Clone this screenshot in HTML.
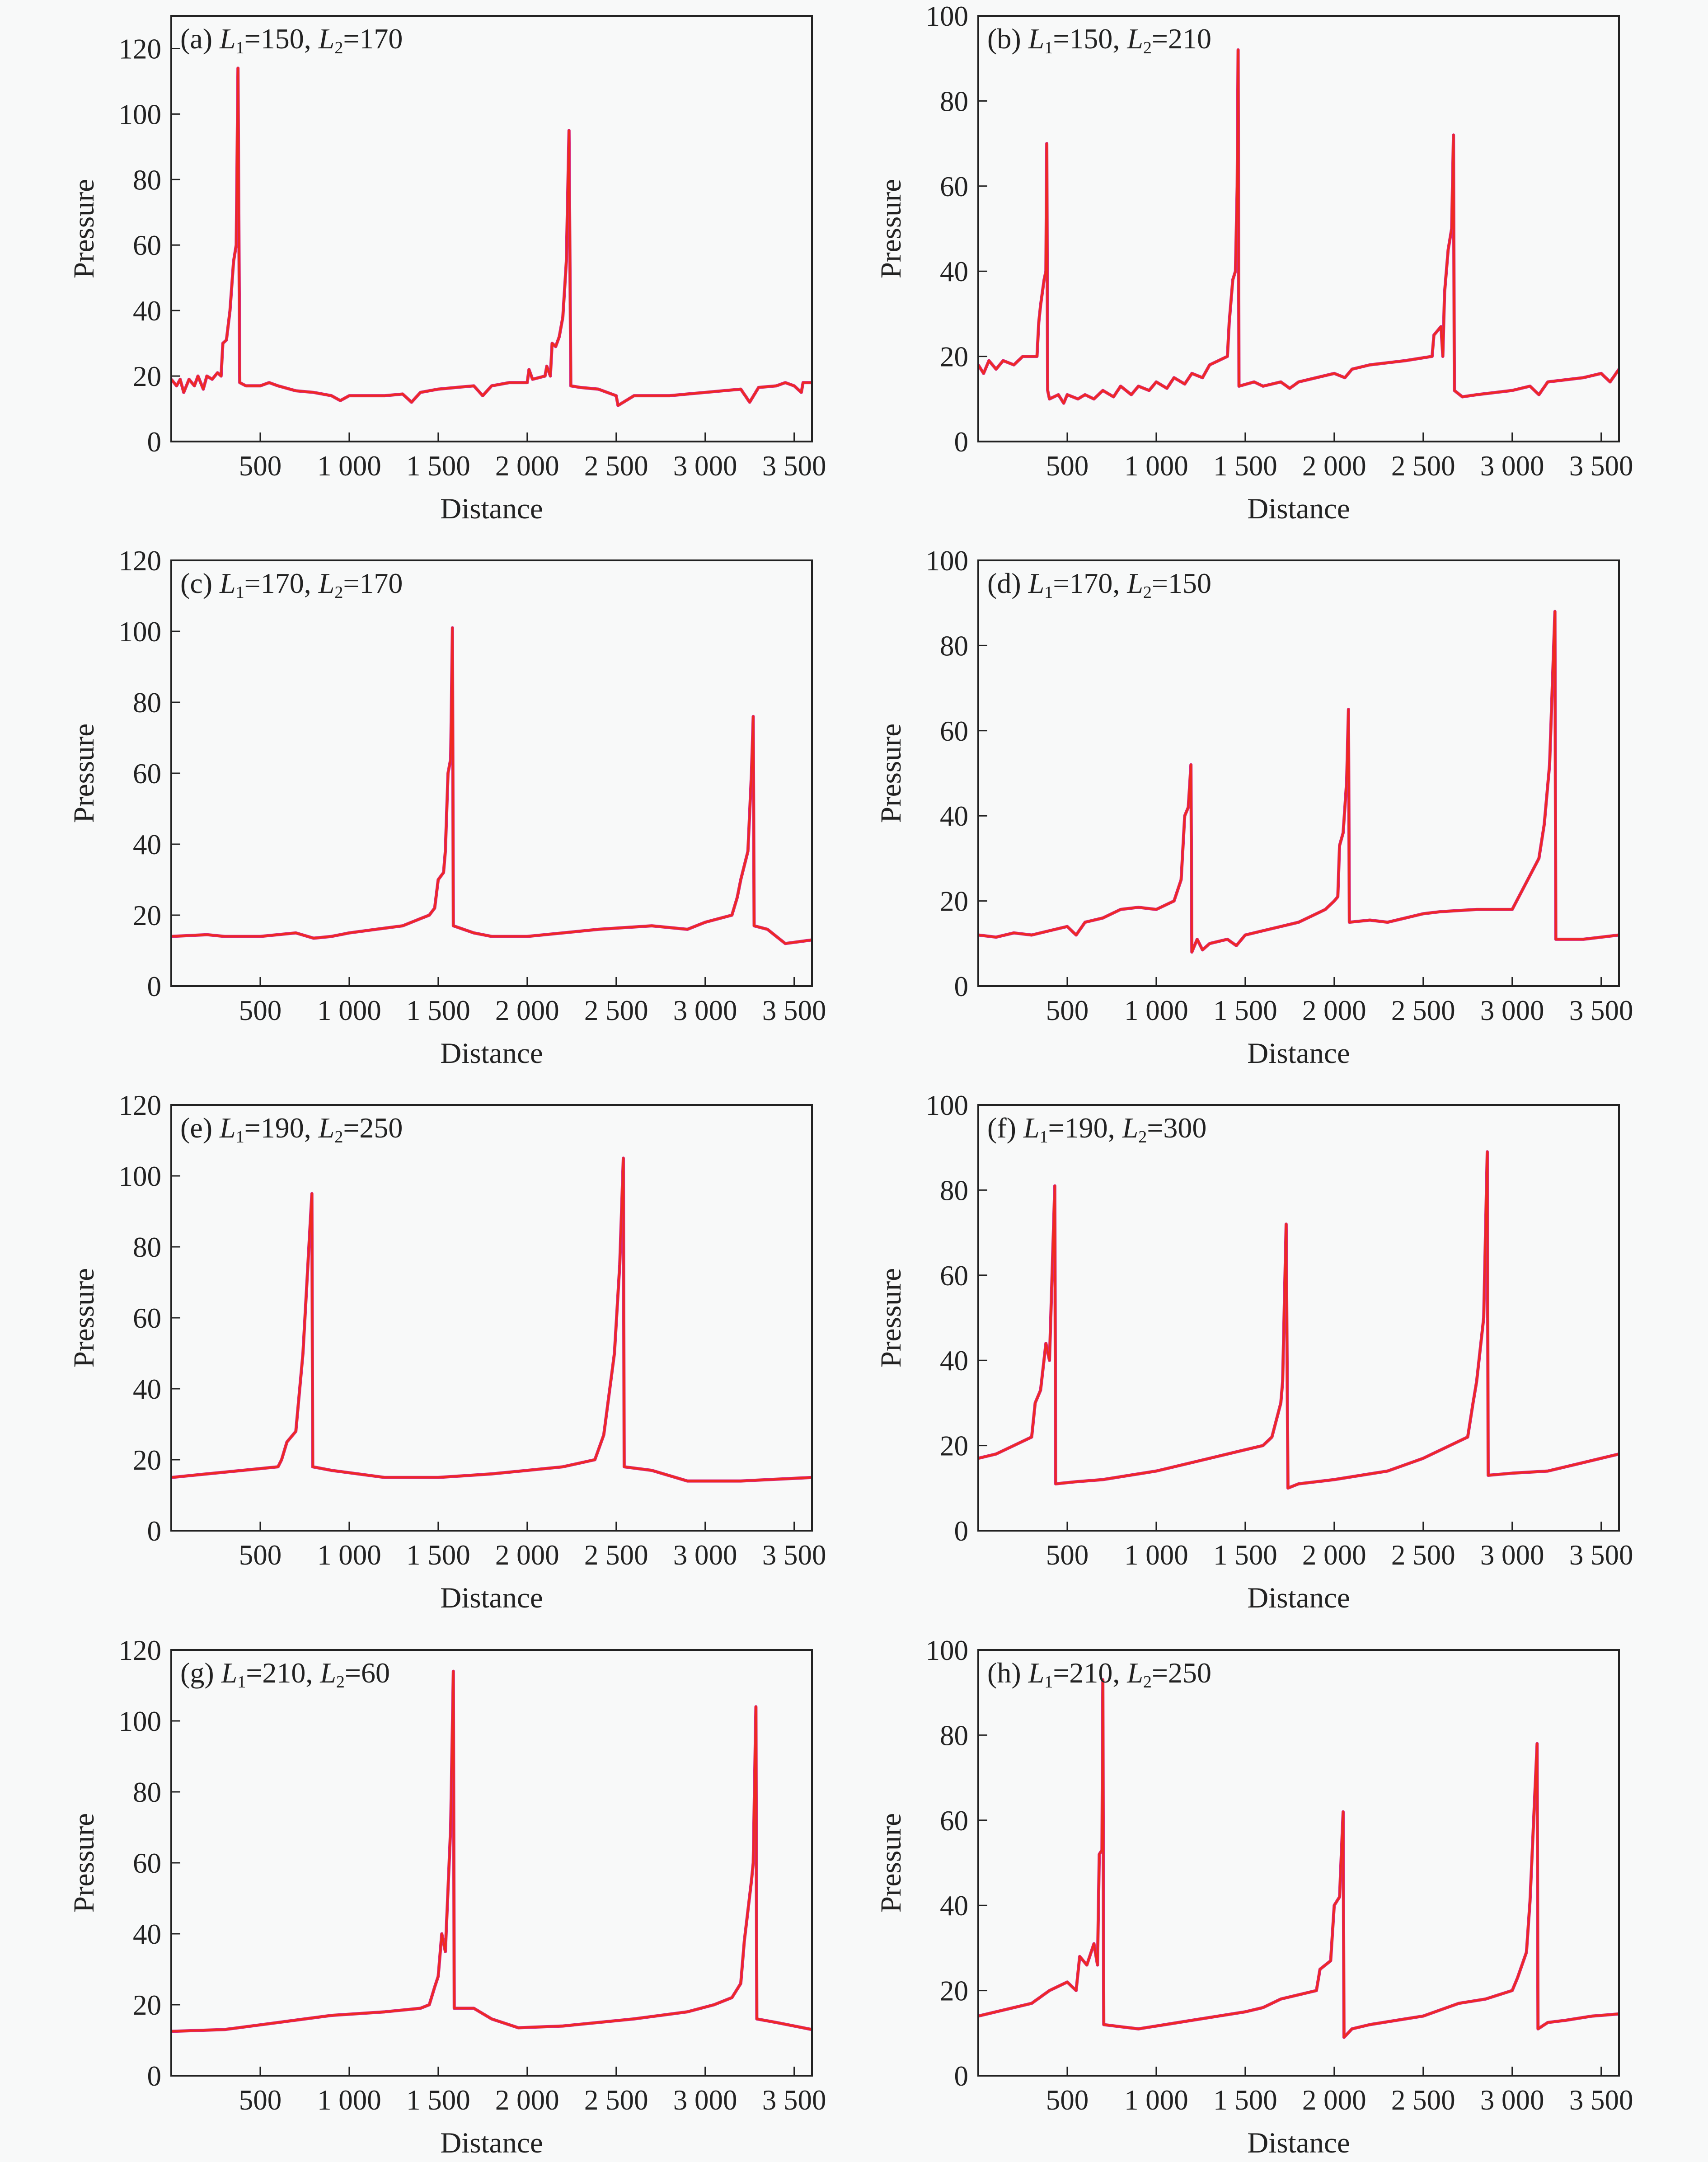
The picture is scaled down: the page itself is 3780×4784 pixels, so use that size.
<!DOCTYPE html>
<html><head><meta charset="utf-8">
<style>
html,body{margin:0;padding:0;background:#f8f9f9;}
svg{display:block;}
text{font-family:"Liberation Serif",serif;fill:#222;}
</style></head>
<body>
<svg id="fig" width="3780" height="4784" viewBox="0 0 3780 4784" xmlns="http://www.w3.org/2000/svg"></svg>
<script>
const xTicks=[500,1000,1500,2000,2500,3000,3500];
const xTickLabels=["500","1 000","1 500","2 000","2 500","3 000","3 500"];
const panelLabels=["(a)","(b)","(c)","(d)","(e)","(f)","(g)","(h)"];
const L1=[150,150,170,170,190,190,210,210];
const L2=[170,210,170,150,250,300,60,250];
const yMaxs=[130,100,120,100,120,100,120,100];
const dA=[[0,19],[30,17],[50,19],[70,15],[100,19],[130,17],[150,20],[180,16],[200,20],[230,19],[260,21],[280,20],[290,30],[310,31],[330,40],[350,55],[365,60],[375,114],[385,18],[420,17],[500,17],[550,18],[600,17],[700,15.5],[800,15],[900,14],[950,12.5],[1000,14],[1100,14],[1200,14],[1300,14.5],[1350,12],[1400,15],[1500,16],[1600,16.5],[1700,17],[1750,14],[1800,17],[1900,18],[2000,18],[2010,22],[2030,19],[2100,20],[2110,23],[2130,20],[2140,30],[2160,29],[2180,32],[2200,38],[2220,55],[2235,95],[2245,17],[2300,16.5],[2400,16],[2500,14],[2510,11],[2600,14],[2700,14],[2800,14],[2900,14.5],[3000,15],[3100,15.5],[3200,16],[3250,12],[3300,16.5],[3400,17],[3450,18],[3500,17],[3540,15],[3550,18],[3600,18]];
const dB=[[0,18],[30,16],[60,19],[100,17],[140,19],[200,18],[250,20],[330,20],[340,28],[350,32],[370,38],[380,40],[385,70],[390,12],[400,10],[450,11],[480,9],[500,11],[560,10],[600,11],[650,10],[700,12],[760,10.5],[800,13],[860,11],[900,13],[960,12],[1000,14],[1060,12.5],[1100,15],[1160,13.5],[1200,16],[1260,15],[1300,18],[1400,20],[1410,28],[1430,38],[1445,40],[1455,60],[1460,92],[1465,13],[1550,14],[1600,13],[1700,14],[1750,12.5],[1800,14],[1900,15],[2000,16],[2060,15],[2100,17],[2200,18],[2300,18.5],[2400,19],[2550,20],[2560,25],[2600,27],[2610,20],[2620,35],[2640,45],[2660,50],[2670,72],[2675,12],[2720,10.5],[2800,11],[2900,11.5],[3000,12],[3100,13],[3150,11],[3200,14],[3300,14.5],[3400,15],[3500,16],[3550,14],[3600,17]];
const dC=[[0,14],[200,14.5],[300,14],[500,14],[700,15],[800,13.5],[900,14],[1000,15],[1150,16],[1300,17],[1400,19],[1450,20],[1480,22],[1500,30],[1530,32],[1540,38],[1555,60],[1570,64],[1580,101],[1585,17],[1700,15],[1800,14],[2000,14],[2200,15],[2400,16],[2700,17],[2900,16],[3000,18],[3150,20],[3180,25],[3200,30],[3240,38],[3260,60],[3270,76],[3275,17],[3350,16],[3450,12],[3600,13]];
const dD=[[0,12],[100,11.5],[200,12.5],[300,12],[400,13],[500,14],[550,12],[600,15],[700,16],[800,18],[900,18.5],[1000,18],[1100,20],[1140,25],[1160,40],[1180,42],[1195,52],[1200,8],[1230,11],[1260,8.5],[1300,10],[1400,11],[1450,9.5],[1500,12],[1600,13],[1700,14],[1800,15],[1900,17],[1950,18],[2000,20],[2020,21],[2030,33],[2050,36],[2070,48],[2080,65],[2085,15],[2200,15.5],[2300,15],[2400,16],[2500,17],[2600,17.5],[2800,18],[3000,18],[3050,22],[3150,30],[3180,38],[3210,52],[3240,88],[3245,11],[3400,11],[3600,12]];
const dE=[[0,15],[200,16],[400,17],[600,18],[620,20],[650,25],[700,28],[740,50],[790,95],[795,18],[900,17],[1200,15],[1500,15],[1800,16],[2000,17],[2200,18],[2380,20],[2430,27],[2490,50],[2520,75],[2540,105],[2545,18],[2700,17],[2900,14],[3200,14],[3600,15]];
const dF=[[0,17],[100,18],[200,20],[300,22],[320,30],[350,33],[380,44],[400,40],[430,81],[435,11],[550,11.5],[700,12],[850,13],[1000,14],[1150,15.5],[1300,17],[1450,18.5],[1600,20],[1650,22],[1700,30],[1710,35],[1730,72],[1740,10],[1800,11],[1900,11.5],[2000,12],[2150,13],[2300,14],[2400,15.5],[2500,17],[2650,20],[2750,22],[2780,30],[2800,35],[2840,50],[2860,89],[2865,13],[3000,13.5],[3200,14],[3400,16],[3600,18]];
const dG=[[0,12.5],[300,13],[600,15],[900,17],[1200,18],[1400,19],[1450,20],[1480,25],[1500,28],[1520,40],[1540,35],[1570,70],[1585,114],[1590,19],[1700,19],[1800,16],[1950,13.5],[2200,14],[2600,16],[2900,18],[3050,20],[3150,22],[3200,26],[3220,38],[3260,55],[3270,60],[3285,104],[3290,16],[3400,15],[3600,13]];
const dH=[[0,14],[100,15],[200,16],[300,17],[400,20],[500,22],[550,20],[570,28],[610,26],[650,31],[670,26],[680,52],[695,53],[700,93],[705,12],[800,11.5],[900,11],[1050,12],[1200,13],[1350,14],[1500,15],[1600,16],[1700,18],[1800,19],[1900,20],[1920,25],[1980,27],[2000,40],[2030,42],[2050,62],[2055,9],[2100,11],[2200,12],[2350,13],[2500,14],[2600,15.5],[2700,17],[2850,18],[3000,20],[3030,23],[3080,29],[3100,41],[3140,78],[3145,11],[3200,12.5],[3300,13],[3450,14],[3600,14.5]];
const series=[dA,dB,dC,dD,dE,dF,dG,dH];
const NS="http://www.w3.org/2000/svg";
const svg=document.getElementById('fig');
function mk(tag,attrs,parent){const e=document.createElementNS(NS,tag);for(const k in attrs)e.setAttribute(k,attrs[k]);(parent||svg).appendChild(e);return e;}
const tops=[35,1240,2445,3651];
const H=942;
const lefts=[379,2165];const W=1418;
for(let i=0;i<8;i++){
  const col=i%2,row=Math.floor(i/2);
  const x0=lefts[col],y0=tops[row],ymax=yMaxs[i];
  const g=mk('g',{});
  
  
  const sx=v=>x0+v/3600*W;
  const sy=v=>y0+H-v/ymax*H;
  for(let t=0;t<=ymax;t+=20){
    if(t>0){const tk=mk('line',{x1:x0,x2:x0+20,y1:sy(t),y2:sy(t),stroke:'#222','stroke-width':3},g);
    }
    const tl=mk('text',{x:x0-22,y:sy(t)+22,'text-anchor':'end','font-size':63},g);
    
    tl.textContent=String(t);
  }
  xTicks.forEach((t,j)=>{
    const tk=mk('line',{x1:sx(t),x2:sx(t),y1:y0+H,y2:y0+H-20,stroke:'#222','stroke-width':3},g);
    
    const tl=mk('text',{x:sx(t),y:y0+H+75,'text-anchor':'middle','font-size':63},g);
    
    tl.textContent=xTickLabels[j];
  });
  const xt=mk('text',{x:x0+W/2,y:y0+H+170,'text-anchor':'middle','font-size':65},g);
  
  xt.textContent='Distance';
  const yx=x0-172,yy=y0+H/2;
  const yt=mk('text',{x:yx,y:yy,'text-anchor':'middle','font-size':65,transform:`rotate(-90 ${yx} ${yy})`},g);
  
  yt.textContent='Pressure';
  const cp=mk('clipPath',{id:'c'+i},g);
  mk('rect',{x:x0,y:y0,width:W,height:H},cp);
  const d=series[i].map((p,k)=>(k?'L':'M')+sx(p[0]).toFixed(1)+' '+sy(p[1]).toFixed(1)).join(' ');
  const l1=mk('path',{d:d,fill:'none',stroke:'#d8287a','stroke-width':7,'stroke-linejoin':'round','clip-path':`url(#c${i})`},g);
  
  const l2=mk('path',{d:d,fill:'none',stroke:'#f02a1e','stroke-width':4,'stroke-linejoin':'round','clip-path':`url(#c${i})`},g);
  
  const fr=mk('rect',{x:x0,y:y0,width:W,height:H,fill:'none',stroke:'#222','stroke-width':4},g);
  
  const lab=mk('text',{x:x0+20,y:y0+72,'font-size':64},g);
  
  lab.innerHTML=`${panelLabels[i]} <tspan font-style="italic">L</tspan><tspan font-size="38" dy="11">1</tspan><tspan dy="-11">=${L1[i]}, </tspan><tspan font-style="italic">L</tspan><tspan font-size="38" dy="11">2</tspan><tspan dy="-11">=${L2[i]}</tspan>`;
}
</script>
</body></html>
